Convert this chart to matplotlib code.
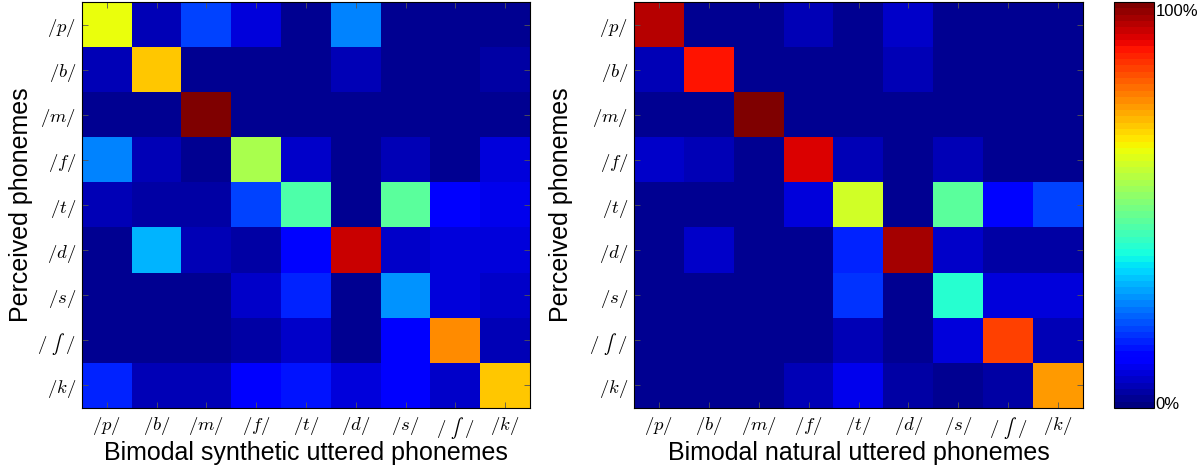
import numpy as np
import matplotlib.pyplot as plt

plt.rcParams['font.family'] = 'Liberation Sans'
plt.rcParams['mathtext.fontset'] = 'cm'

# phoneme labels (rows = perceived, columns = uttered)
phonemes = [r'$/p/$', r'$/b/$', r'$/m/$', r'$/f/$', r'$/t/$', r'$/d/$',
            r'$/s/$', '$/\\ ∫\\ /$', r'$/k/$']

# bimodal synthetic, values (0..1)
synthetic = [
    [0.64, 0.05, 0.20, 0.08, 0.03, 0.25, 0.03, 0.03, 0.03],
    [0.06, 0.70, 0.03, 0.03, 0.03, 0.05, 0.03, 0.03, 0.04],
    [0.02, 0.02, 1.00, 0.02, 0.02, 0.02, 0.02, 0.02, 0.02],
    [0.25, 0.05, 0.03, 0.55, 0.07, 0.03, 0.06, 0.03, 0.08],
    [0.05, 0.04, 0.04, 0.19, 0.45, 0.03, 0.46, 0.12, 0.10],
    [0.03, 0.31, 0.06, 0.04, 0.13, 0.93, 0.07, 0.09, 0.09],
    [0.03, 0.03, 0.03, 0.07, 0.17, 0.03, 0.27, 0.09, 0.07],
    [0.03, 0.03, 0.03, 0.04, 0.07, 0.03, 0.12, 0.75, 0.05],
    [0.17, 0.06, 0.05, 0.12, 0.15, 0.08, 0.12, 0.07, 0.70],
]

# bimodal natural
natural = [
    [0.95, 0.03, 0.03, 0.06, 0.03, 0.07, 0.03, 0.03, 0.03],
    [0.05, 0.88, 0.03, 0.03, 0.03, 0.05, 0.03, 0.03, 0.03],
    [0.02, 0.02, 0.99, 0.02, 0.02, 0.02, 0.02, 0.02, 0.02],
    [0.07, 0.05, 0.03, 0.91, 0.05, 0.03, 0.05, 0.03, 0.03],
    [0.03, 0.03, 0.03, 0.08, 0.60, 0.03, 0.46, 0.13, 0.20],
    [0.03, 0.07, 0.03, 0.03, 0.16, 0.96, 0.07, 0.04, 0.04],
    [0.03, 0.03, 0.03, 0.03, 0.18, 0.03, 0.40, 0.08, 0.08],
    [0.03, 0.03, 0.03, 0.03, 0.06, 0.03, 0.08, 0.83, 0.05],
    [0.03, 0.03, 0.03, 0.05, 0.10, 0.04, 0.03, 0.04, 0.74],
]

cmap = plt.get_cmap('jet', 64)

fig = plt.figure(figsize=(12, 4.68), dpi=100)
W, H = 1200, 468
ax1 = fig.add_axes([82 / W, 1 - 408 / H, 448 / W, 406 / H])
ax2 = fig.add_axes([634 / W, 1 - 408 / H, 449 / W, 406 / H])
cax = fig.add_axes([1114 / W, 1 - 408 / H, 40 / W, 406 / H])

panels = [(ax1, synthetic, 'Bimodal synthetic uttered phonemes', -0.109),
          (ax2, natural, 'Bimodal natural uttered phonemes', -0.136)]

for ax, data, xlabel, ylab_x in panels:
    im = ax.imshow(np.array(data), cmap=cmap, vmin=0, vmax=1, aspect='auto',
                   interpolation='nearest')
    ax.set_xticks(range(len(phonemes)))
    ax.set_yticks(range(len(phonemes)))
    ax.set_xticklabels(phonemes, fontsize=13.5)
    ax.set_yticklabels(phonemes, fontsize=13.5)
    ax.tick_params(direction='in', top=True, right=True, length=4, width=0.6,
                   color='#555555')
    ax.tick_params(axis='x', pad=5)
    ax.tick_params(axis='y', pad=4)
    ax.set_xlabel(xlabel, fontsize=18)
    ax.set_ylabel('Perceived phonemes', fontsize=18)
    ax.xaxis.set_label_coords(0.5, -0.082)
    ax.yaxis.set_label_coords(ylab_x, 0.5)
    for s in ax.spines.values():
        s.set_linewidth(0.8)

cb = fig.colorbar(im, cax=cax, ticks=[0.012, 0.98])
cb.ax.set_yticklabels(['0%', '100%'], fontsize=12)
cb.ax.tick_params(length=0, pad=1)
cb.outline.set_linewidth(0.8)

fig.savefig('out.png', dpi=100)
